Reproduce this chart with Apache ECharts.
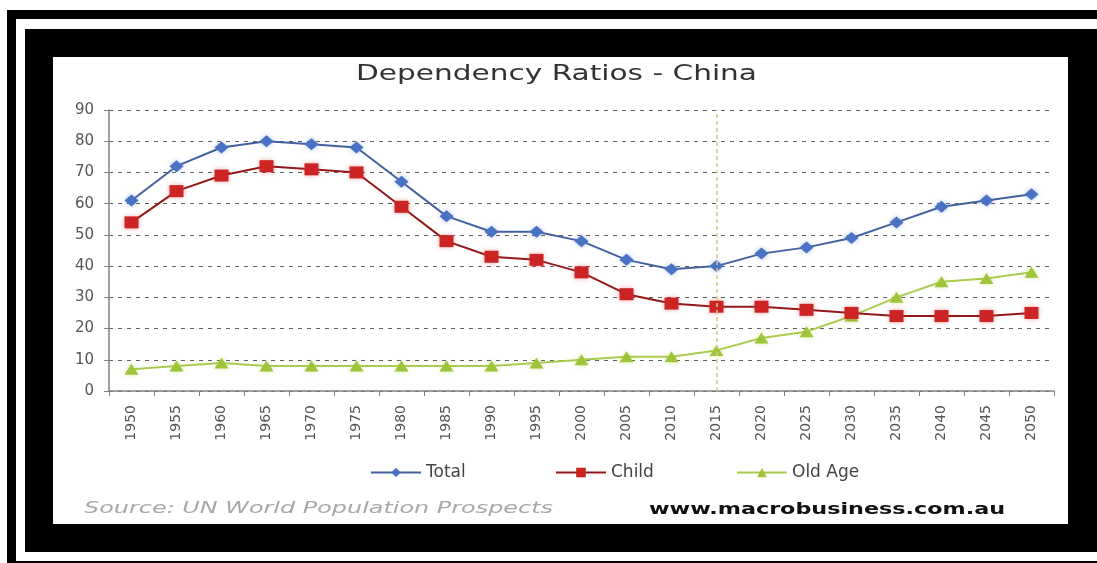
<!DOCTYPE html>
<html><head><meta charset="utf-8">
<script src="https://cdn.jsdelivr.net/npm/echarts@6/dist/echarts.min.js"></script>
<style>
html,body{margin:0;padding:0;background:#fff;}
.f{position:absolute;}
#c{position:absolute;left:0;top:0;width:1097px;height:563px;}
</style>
</head><body>
<div class="f" style="left:7px;top:10px;width:1090px;height:553px;background:#000"></div>
<div class="f" style="left:16px;top:19px;width:1081px;height:542px;background:#fff"></div>
<div class="f" style="left:25px;top:29px;width:1072px;height:523px;background:#000"></div>
<div class="f" style="left:53px;top:57px;width:1015px;height:467px;background:#fff"></div>
<div id="c"></div>
<script>
// ---- data ----
const years = ['1950','1955','1960','1965','1970','1975','1980','1985','1990','1995','2000','2005','2010','2015','2020','2025','2030','2035','2040','2045','2050'];
const total = [61,72,78,80,79,78,67,56,51,51,48,42,39,40,44,46,49,54,59,61,63];
const child = [54,64,69,72,71,70,59,48,43,42,38,31,28,27,27,26,25,24,24,24,25];
const oldAge = [7,8,9,8,8,8,8,8,8,9,10,11,11,13,17,19,24,30,35,36,38];
const seriesNames = ['Total','Child','Old Age'];
const yMin = 0, yMax = 90, yStep = 10;
const markYear = '2015';
const titleText = 'Dependency Ratios - China';
const sourceText = 'Source: UN World Population Prospects';
const siteText = 'www.macrobusiness.com.au';

// ---- helpers ----
const ctx = document.createElement('canvas').getContext('2d');
function textW(t, font){ ctx.font = font; return ctx.measureText(t).width; }
function stretched(t, font, left, right, cy, fill){
  const s = (right - left) / textW(t, font);
  return {type:'text', x:left, y:cy, scaleX:s, scaleY:1, z:10,
    style:{text:t, font:font, fill:fill, align:'left', verticalAlign:'middle', textAlign:'left', textVerticalAlign:'middle'}};
}
const FF = '"DejaVu Sans", Verdana, sans-serif';
const titleFont = 'normal 22px ' + FF;
const srcFont = 'italic 16px ' + FF;
const siteFont = 'bold 16px ' + FF;

const chart = echarts.init(document.getElementById('c'), null, {renderer:'canvas'});
const legendCommon = {orient:'horizontal', top:459, itemWidth:50, itemHeight:12,
  textStyle:{fontFamily:FF, fontSize:17, color:'#444'}, selectedMode:false};
chart.setOption({
  animation:false,
  backgroundColor:'transparent',
  grid:{left:109, right:43, top:110, bottom:172, containLabel:false},
  graphic:[
    stretched(titleText, titleFont, 356, 757, 74, '#333'),
    stretched(sourceText, srcFont, 84, 553, 509, '#a8a8a8'),
    stretched(siteText, siteFont, 649, 1005, 510, '#111')
  ],
  legend:[
    Object.assign({data:[seriesNames[0]], left:365}, legendCommon),
    Object.assign({data:[seriesNames[1]], left:550}, legendCommon),
    Object.assign({data:[seriesNames[2]], left:731}, legendCommon)
  ],
  xAxis:{type:'category', data:years, boundaryGap:true,
    axisLine:{lineStyle:{color:'#808080', width:1.5}},
    axisTick:{show:true, alignWithLabel:false, length:5, lineStyle:{color:'#808080'}},
    axisLabel:{rotate:90, margin:14, fontFamily:FF, fontSize:14, color:'#555', interval:0},
    splitLine:{show:false}},
  yAxis:{type:'value', min:yMin, max:yMax, interval:yStep,
    axisLine:{show:true, lineStyle:{color:'#808080', width:1.5}},
    axisTick:{show:true, length:5, lineStyle:{color:'#808080'}},
    axisLabel:{margin:15, fontFamily:FF, fontSize:15, color:'#555'},
    splitLine:{show:true, lineStyle:{color:'#606060', width:1, type:[4,5]}}},
  series:[
    {name:seriesNames[0], type:'line', data:total, symbol:'diamond', symbolSize:[14,12], z:4,
      lineStyle:{color:'#42619f', width:2}, itemStyle:{color:'#4a72c4', shadowBlur:5, shadowColor:'rgba(80,120,200,0.45)'},
      emphasis:{disabled:true},
      markLine:{silent:true, symbol:['none','none'], label:{show:false},
        lineStyle:{color:'#d8c88c', width:1.5, type:[4,3]}, data:[{xAxis:markYear}]}},
    {name:seriesNames[1], type:'line', data:child, symbol:'rect', symbolSize:[14,12], z:3,
      lineStyle:{color:'#941818', width:2}, itemStyle:{color:'#cc2424', shadowBlur:5, shadowColor:'rgba(220,60,60,0.45)'},
      emphasis:{disabled:true}},
    {name:seriesNames[2], type:'line', data:oldAge, symbol:'triangle', symbolSize:[14,11], z:2,
      lineStyle:{color:'#aacb4c', width:2}, itemStyle:{color:'#9ec43a', shadowBlur:5, shadowColor:'rgba(170,210,60,0.45)'},
      emphasis:{disabled:true}}
  ]
});
</script>
</body></html>
